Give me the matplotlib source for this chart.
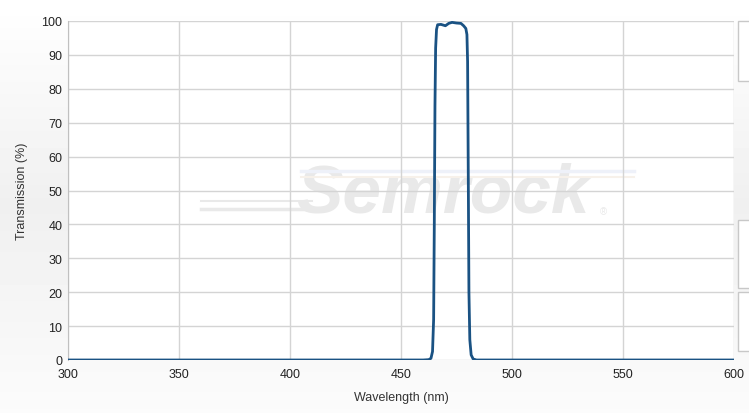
import numpy as np
import matplotlib.pyplot as plt
from matplotlib.patches import Rectangle

plt.rcParams['font.family'] = ['Liberation Sans', 'DejaVu Sans']

# Curva de transmissão do filtro
wavelength = [300, 460, 462.5, 463.5, 464.2, 464.7, 465.0, 465.3, 465.6, 466.0, 466.5,
              468.0, 470.0, 471.5, 473.0, 475.0, 477.0, 478.2, 479.2, 479.7, 480.0,
              480.3, 480.6, 481.0, 481.6, 482.5, 484, 600]
transmission = [0, 0, 0.1, 0.5, 2.5, 12, 40, 75, 92, 97.5, 98.9,
                99.0, 98.6, 99.3, 99.6, 99.4, 99.3, 98.6, 97.8, 96, 88,
                55, 20, 6, 1.5, 0.3, 0, 0]

x_ticks = [300, 350, 400, 450, 500, 550, 600]
y_ticks = [0, 10, 20, 30, 40, 50, 60, 70, 80, 90, 100]

W, H = 749, 414
fig = plt.figure(figsize=(W / 100, H / 100), dpi=100)

# fundo em degradê
bg = fig.add_axes([0, 0, 1, 1], zorder=-10)
grad = np.concatenate([np.linspace(1.0, 0.94, 50), np.linspace(0.94, 0.985, 50)])
bg.imshow(np.tile(grad[:, None], (1, 2)), cmap='gray', vmin=0, vmax=1,
          aspect='auto', extent=[0, 1, 0, 1])
bg.set_xlim(0, 1); bg.set_ylim(0, 1)
bg.axis('off')

# painéis laterais
for y0, y1 in [(22, 82), (221, 289), (293, 352)]:
    fig.patches.append(Rectangle((738 / W, 1 - y1 / H), 20 / W, (y1 - y0) / H,
                                 transform=fig.transFigure, facecolor='white',
                                 edgecolor='#c8c8c8', linewidth=1))

left, right, top, bottom = 68, 734, 22, 361
ax = fig.add_axes([left / W, 1 - bottom / H, (right - left) / W, (bottom - top) / H])
ax.set_facecolor('white')

# marca d'água
ax.text(469, 49, 'Semrock', fontsize=50, fontweight='bold', style='italic',
        color='#e9e9e9', ha='center', va='center', zorder=0)
ax.text(541, 44, '®', fontsize=7, color='#e9e9e9', ha='center', va='center', zorder=0)
ax.plot([360, 410], [44.5, 44.5], color='#e9e9e9', lw=2.5, zorder=0)
ax.plot([360, 410], [46.8, 46.8], color='#e9e9e9', lw=1.5, zorder=0)
ax.plot([405, 555], [55.8, 55.8], color='#eef1f9', lw=2.5, zorder=0)
ax.plot([405, 555], [54.0, 54.0], color='#f7f1ea', lw=1.5, zorder=0)

ax.plot(wavelength, transmission, color='#1a5283', lw=2, zorder=3,
        solid_joinstyle='round')

ax.set_xlim(300, 600)
ax.set_ylim(0, 100)
ax.set_xticks(x_ticks)
ax.set_yticks(y_ticks)
ax.grid(True, color='#d4d4d4', lw=1)
ax.set_axisbelow(True)
for s in ['top', 'right', 'bottom']:
    ax.spines[s].set_visible(False)
ax.spines['left'].set_color('#c0c0c0')
ax.tick_params(axis='y', length=0, labelsize=9, labelcolor='#222222', pad=4)
ax.tick_params(axis='x', length=0, labelsize=9, labelcolor='#222222', pad=6)
ax.set_xlabel('Wavelength (nm)', fontsize=9, color='#333333', labelpad=8)
ax.set_ylabel('Transmission (%)', fontsize=9, color='#333333', labelpad=10)

fig.savefig('out.png', dpi=100)
